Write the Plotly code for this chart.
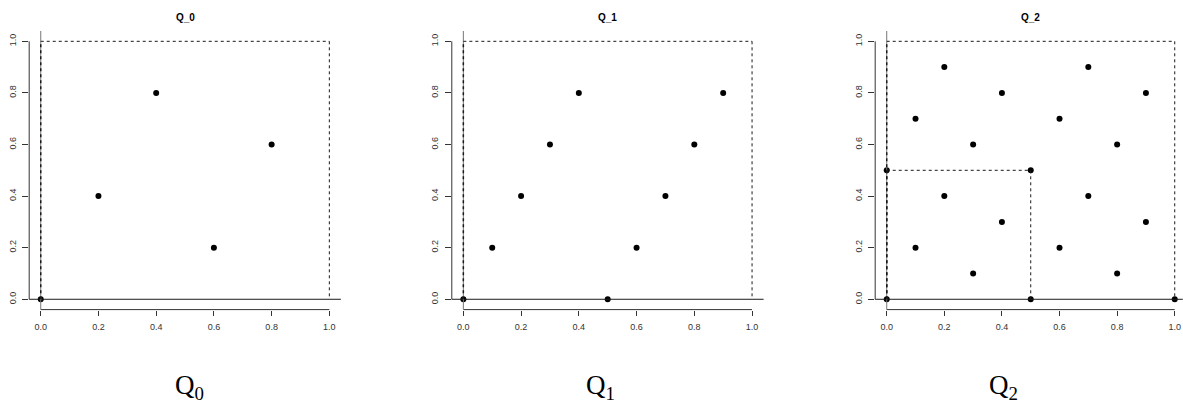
import plotly.graph_objects as go

# Point sets for each panel
q0_x = [0.0, 0.2, 0.4, 0.6, 0.8]
q0_y = [0.0, 0.4, 0.8, 0.2, 0.6]

q1_x = [0.0, 0.1, 0.2, 0.3, 0.4, 0.5, 0.6, 0.7, 0.8, 0.9]
q1_y = [0.0, 0.2, 0.4, 0.6, 0.8, 0.0, 0.2, 0.4, 0.6, 0.8]

q2_x = [0.0, 0.0, 0.1, 0.1, 0.2, 0.2, 0.3, 0.3, 0.4, 0.4, 0.5, 0.5,
        0.6, 0.6, 0.7, 0.7, 0.8, 0.8, 0.9, 0.9, 1.0]
q2_y = [0.0, 0.5, 0.2, 0.7, 0.4, 0.9, 0.1, 0.6, 0.3, 0.8, 0.0, 0.5,
        0.2, 0.7, 0.4, 0.9, 0.1, 0.6, 0.3, 0.8, 0.0]

titles = ["Q_0", "Q_1", "Q_2"]
captions = ["Q<sub>0</sub>", "Q<sub>1</sub>", "Q<sub>2</sub>"]
tick_vals = [0.0, 0.2, 0.4, 0.6, 0.8, 1.0]
tick_text = ["0.0", "0.2", "0.4", "0.6", "0.8", "1.0"]

# dashed boxes per panel: (x0, y0, x1, y1)
boxes = [
    [(0, 0, 1, 1)],
    [(0, 0, 1, 1)],
    [(0, 0, 1, 1), (0, 0, 0.5, 0.5)],
]

W, H = 1183, 416
# left edge of each plotting region in px, px per unit, x range
panel_left = [29.2, 451.8, 875.2]
ppu = [288.6, 288.7, 288.0]
x_ranges = [[-0.04, 1.04], [-0.04, 1.04], [-0.04, 1.028]]
y_range = [-0.04, 1.04]
y_dom = [(H - 309.6) / H, (H - 31.0) / H]
caption_x = [173, 600, 1020]

data = [(q0_x, q0_y), (q1_x, q1_y), (q2_x, q2_y)]

fig = go.Figure()
ink = "#1a1a1a"
tickfont = dict(family="Liberation Sans, Arial, sans-serif", size=9, color="#333333")

for i, (xs, ys) in enumerate(data):
    n = "" if i == 0 else str(i + 1)
    xa, ya = "x" + n, "y" + n
    left = panel_left[i]
    right = min(left + (x_ranges[i][1] - x_ranges[i][0]) * ppu[i], W)
    fig.update_layout(**{
        "xaxis" + n: dict(domain=[left / W, right / W], range=x_ranges[i],
                          tickvals=tick_vals, ticktext=tick_text, ticks="outside",
                          ticklen=5, tickwidth=1, tickcolor="#333333",
                          showline=False, showgrid=False, zeroline=False,
                          tickfont=tickfont, anchor=ya, fixedrange=True,
                          ticklabelstandoff=4),
        "yaxis" + n: dict(domain=y_dom, range=y_range,
                          tickvals=tick_vals, ticktext=tick_text, ticks="outside",
                          ticklen=6, tickwidth=1, tickcolor="#333333",
                          showline=False, showgrid=False, zeroline=False,
                          tickangle=-90, tickfont=tickfont, anchor=xa,
                          ticklabelstandoff=3, fixedrange=True),
    })
    # axis lines spanning first to last tick
    fig.add_shape(type="line", xref=xa, yref=ya + " domain", x0=0, x1=1, y0=0, y1=0,
                  line=dict(color="#333333", width=1))
    fig.add_shape(type="line", xref=xa + " domain", yref=ya, x0=0, x1=0, y0=0, y1=1,
                  line=dict(color="#333333", width=1))
    # reference lines at x = 0 and y = 0
    fig.add_shape(type="line", xref=xa + " domain", yref=ya, x0=0, x1=1, y0=0, y1=0,
                  line=dict(color=ink, width=1))
    fig.add_shape(type="line", xref=xa, yref=ya + " domain", x0=0, x1=0, y0=0, y1=1,
                  line=dict(color="#777777", width=1))
    # dashed boxes
    for (bx0, by0, bx1, by1) in boxes[i]:
        for (sx0, sy0, sx1, sy1) in [(bx0, by0, bx0, by1), (bx0, by1, bx1, by1),
                                     (bx1, by1, bx1, by0)]:
            w = 1.5 if sx0 == sx1 == 0 else 1
            fig.add_shape(type="line", xref=xa, yref=ya, x0=sx0, y0=sy0, x1=sx1, y1=sy1,
                          line=dict(color=ink, width=w, dash="3px,3px"))
    fig.add_trace(go.Scatter(x=xs, y=ys, mode="markers", xaxis=xa, yaxis=ya,
                             marker=dict(color="black", size=6),
                             cliponaxis=False, showlegend=False, hoverinfo="x+y"))
    # panel title
    fig.add_annotation(text="<b>" + titles[i] + "</b>", xref=xa, yref="paper",
                       x=0.5, y=(H - 10) / H, showarrow=False,
                       font=dict(family="Liberation Sans, Arial, sans-serif", size=10,
                                 color="black"))
    # caption under each panel
    fig.add_annotation(text=captions[i], xref="paper", yref="paper",
                       x=caption_x[i] / W, y=(H - 406) / H, showarrow=False,
                       font=dict(family="Liberation Serif, serif", size=27,
                                 color="black"))

fig.update_layout(width=W, height=H, margin=dict(l=0, r=0, t=0, b=0),
                  paper_bgcolor="white", plot_bgcolor="white", showlegend=False)

fig.write_html("out.html")
